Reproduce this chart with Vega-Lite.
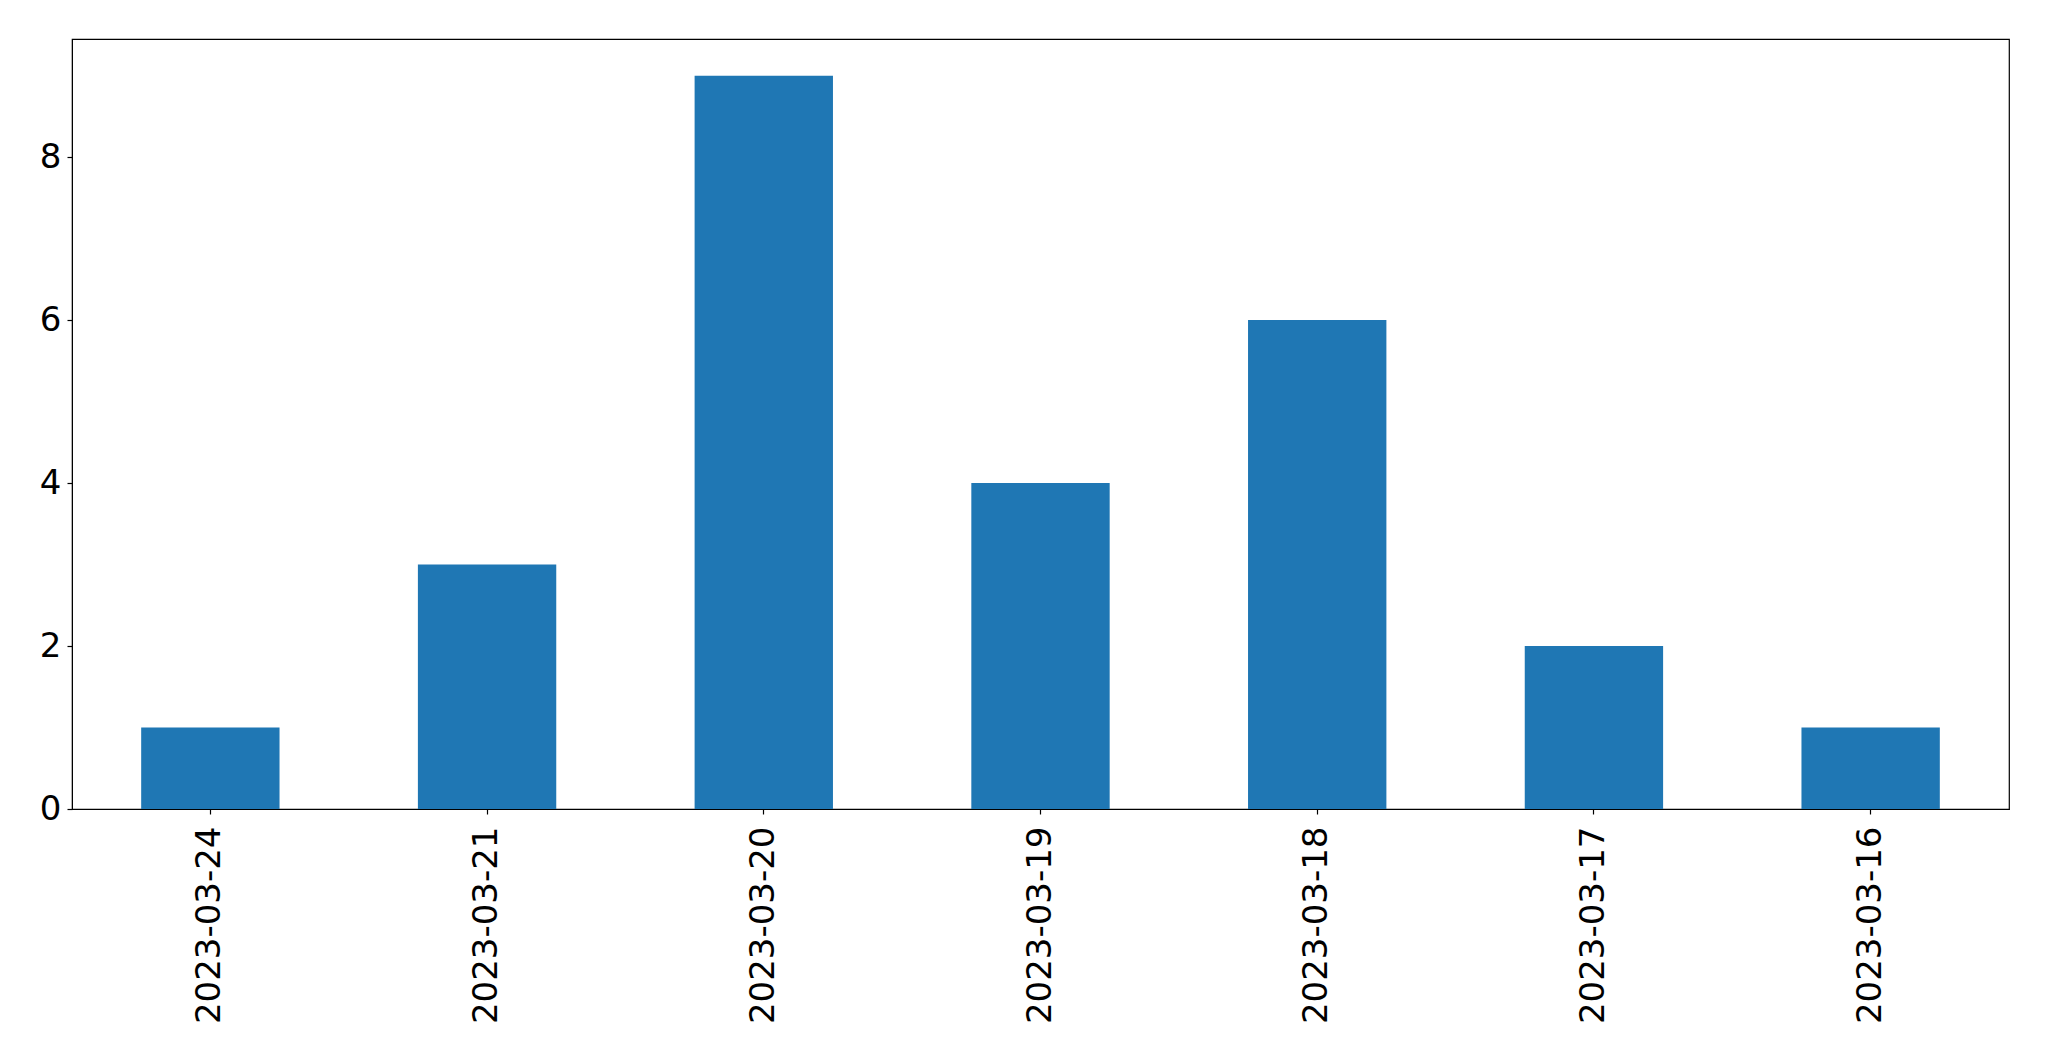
{
  "$schema": "https://vega.github.io/schema/vega-lite/v6.json",
  "autosize": "none",
  "padding": {"left": 72, "top": 39, "right": 40, "bottom": 252},
  "width": 1937,
  "height": 770,
  "background": "white",
  "config": {
    "view": {"stroke": "black", "strokeWidth": 1.2},
    "axis": {
      "labelFont": "DejaVu Sans",
      "labelFontSize": 34,
      "labelLimit": 0,
      "labelColor": "black",
      "domainColor": "black",
      "tickColor": "black",
      "tickSize": 5,
      "tickWidth": 1.2,
      "grid": false,
      "title": null
    }
  },
  "data": {
    "values": [
      {"date": "2023-03-24", "count": 1},
      {"date": "2023-03-21", "count": 3},
      {"date": "2023-03-20", "count": 9},
      {"date": "2023-03-19", "count": 4},
      {"date": "2023-03-18", "count": 6},
      {"date": "2023-03-17", "count": 2},
      {"date": "2023-03-16", "count": 1}
    ]
  },
  "mark": {"type": "bar", "color": "#1f77b4"},
  "encoding": {
    "x": {
      "field": "date",
      "type": "nominal",
      "sort": null,
      "scale": {"paddingInner": 0.5, "paddingOuter": 0.25},
      "axis": {"labelAngle": -90, "labelAlign": "right", "labelBaseline": "middle", "labelPadding": 12}
    },
    "y": {
      "field": "count",
      "type": "quantitative",
      "scale": {"domain": [0, 9.45], "nice": false},
      "axis": {"values": [0, 2, 4, 6, 8], "labelPadding": 6}
    }
  }
}
